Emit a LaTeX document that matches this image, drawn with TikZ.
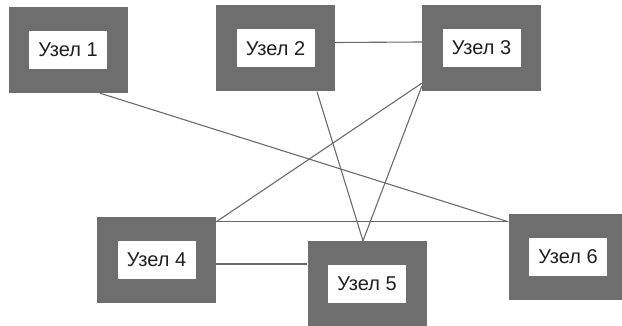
\documentclass[tikz,border=0pt]{standalone}
\usepackage{fontspec}
\setmainfont{Liberation Sans}
\usepackage{xcolor}
\definecolor{ramka}{HTML}{6E6E6E}
\definecolor{liniya}{HTML}{6A6A6A}
\definecolor{tekst}{HTML}{202020}

\begin{document}
\begin{tikzpicture}[x=1pt,y=-1pt,
    uzel/.style={rectangle,fill=ramka,minimum width=119pt,minimum height=86pt,
      inner sep=0pt,text=tekst,font=\fontsize{20}{23}\selectfont,
      path picture={\fill[white] ([xshift=20.5pt,yshift=-24pt]path picture bounding box.north west)
        rectangle ([xshift=-20.5pt,yshift=24pt]path picture bounding box.south east);}},
    svyaz/.style={draw=liniya,line width=1.1pt}]
    \useasboundingbox (0,0) rectangle (622,326);

    \node[uzel] (u1) at (68,50) {Узел 1};
    \node[uzel] (u2) at (275.5,48.5) {Узел 2};
    \node[uzel] (u3) at (481.5,48) {Узел 3};
    \node[uzel] (u4) at (156.5,260) {Узел 4};
    \node[uzel] (u5) at (367,284) {Узел 5};
    \node[uzel] (u6) at (568,257) {Узел 6};

    \draw[svyaz] ([xshift=32pt]u1.south) -- ([yshift=-8pt]u6.north west);
    \draw[svyaz] ([yshift=6pt]u2.east) -- ([yshift=6pt]u3.west);
    \draw[svyaz] ([xshift=41.5pt]u2.south) -- ([xshift=-4pt]u5.north);
    \draw[svyaz] ([yshift=8pt]u3.south west) -- ([yshift=-5pt]u4.north east);
    \draw[svyaz] ([yshift=5pt]u3.south west) -- ([xshift=-4pt]u5.north);
    \draw[svyaz] ([yshift=-5pt]u4.north east) -- ([yshift=-8pt]u6.north west);
    \draw[svyaz] ([yshift=-4pt]u4.east) -- ([yshift=-4pt]u4.east -| u5.west);
  \end{tikzpicture}
\end{document}
